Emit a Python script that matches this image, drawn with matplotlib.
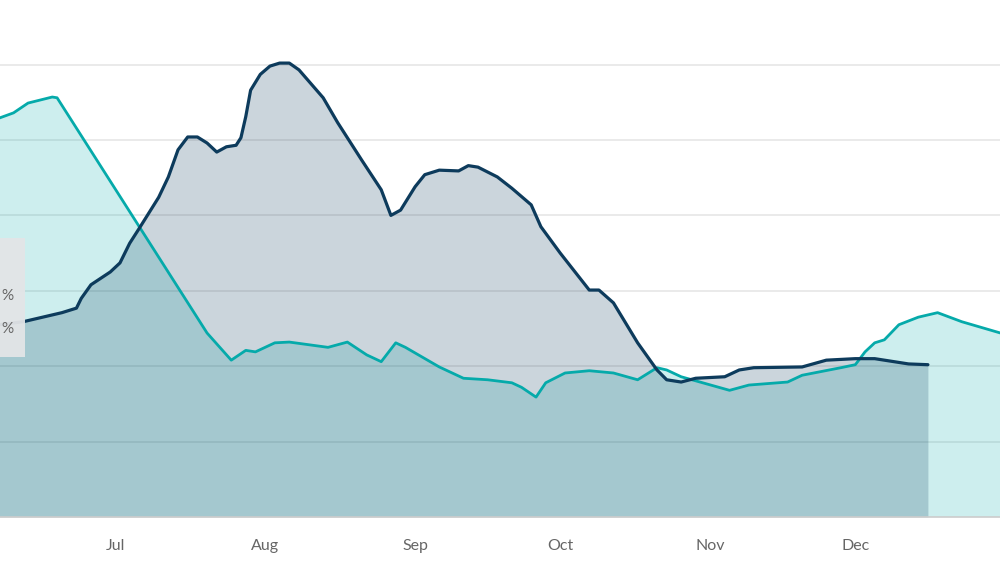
import matplotlib
matplotlib.use("Agg")
import matplotlib.pyplot as plt
import matplotlib.dates as mdates
from matplotlib.patches import Rectangle

# ---- data ----
teal_dates = ["2023-06-07", "2023-06-10", "2023-06-13", "2023-06-18", "2023-06-19",
              "2023-07-20", "2023-07-25", "2023-07-28", "2023-07-30", "2023-08-03",
              "2023-08-06", "2023-08-14", "2023-08-18", "2023-08-22", "2023-08-25",
              "2023-08-28", "2023-08-30", "2023-09-06", "2023-09-11", "2023-09-16",
              "2023-09-21", "2023-09-23", "2023-09-26", "2023-09-28", "2023-10-02",
              "2023-10-07", "2023-10-12", "2023-10-17", "2023-10-21", "2023-10-23",
              "2023-10-26", "2023-11-05", "2023-11-09", "2023-11-17",
              "2023-11-20", "2023-11-28", "2023-12-01", "2023-12-03", "2023-12-05",
              "2023-12-07", "2023-12-10", "2023-12-14", "2023-12-18", "2023-12-23",
              "2023-12-31"]
teal_values = [52.9, 53.6, 54.9, 55.7, 55.6,
               24.4, 20.8, 22.1, 21.9, 23.1,
               23.2, 22.5, 23.2, 21.5, 20.6,
               23.1, 22.5, 19.9, 18.4, 18.2,
               17.8, 17.2, 15.9, 17.8, 19.1,
               19.4, 19.1, 18.2, 19.8, 19.5,
               18.6, 16.8, 17.5, 17.9,
               18.8, 19.8, 20.2, 21.9, 23.1,
               23.5, 25.5, 26.5, 27.1, 25.9,
               24.4]

dark_dates = ["2023-06-07", "2023-06-12", "2023-06-20", "2023-06-23", "2023-06-24",
              "2023-06-26", "2023-06-30", "2023-07-02", "2023-07-04", "2023-07-06",
              "2023-07-10", "2023-07-12", "2023-07-14", "2023-07-16", "2023-07-18",
              "2023-07-20", "2023-07-22", "2023-07-24", "2023-07-26", "2023-07-27",
              "2023-07-28", "2023-07-29", "2023-07-31", "2023-08-02", "2023-08-04",
              "2023-08-06", "2023-08-08", "2023-08-13", "2023-08-16", "2023-08-21",
              "2023-08-25", "2023-08-27", "2023-08-29", "2023-09-01", "2023-09-03",
              "2023-09-06", "2023-09-10", "2023-09-12", "2023-09-14", "2023-09-18",
              "2023-09-21", "2023-09-25", "2023-09-27", "2023-10-01", "2023-10-07",
              "2023-10-09", "2023-10-12", "2023-10-17", "2023-10-21", "2023-10-23",
              "2023-10-26", "2023-10-29", "2023-11-04", "2023-11-07", "2023-11-10",
              "2023-11-20", "2023-11-25", "2023-12-01", "2023-12-05", "2023-12-12",
              "2023-12-16"]
dark_values = [25.5, 25.9, 27.1, 27.7, 29.0,
               30.8, 32.5, 33.7, 36.3, 38.3,
               42.4, 45.1, 48.7, 50.4, 50.4,
               49.6, 48.4, 49.1, 49.3, 50.3,
               53.1, 56.6, 58.7, 59.8, 60.2,
               60.2, 59.3, 55.6, 52.3, 47.3,
               43.4, 40.0, 40.7, 43.8, 45.4,
               46.0, 45.9, 46.6, 46.4, 45.1,
               43.6, 41.4, 38.5, 35.0, 30.1,
               30.1, 28.4, 23.1, 19.5, 18.2,
               17.9, 18.4, 18.6, 19.5, 19.8,
               19.9, 20.8, 21.0, 21.0, 20.3,
               20.2]

month_ticks = ["2023-07-01", "2023-08-01", "2023-09-01", "2023-10-01", "2023-11-01", "2023-12-01"]
month_labels = ["Jul", "Aug", "Sep", "Oct", "Nov", "Dec"]
grid_values = [10, 20, 30, 40, 50, 60]
tooltip_texts = ["%", "%"]

TEAL = "#05aaaa"
DARK = "#0d3b5c"

plt.rcParams['font.family'] = ['Lato', 'DejaVu Sans']

fig = plt.figure(figsize=(10, 5.66), dpi=100)
ax = fig.add_axes([0, 49 / 566, 1, 517 / 566])

td = mdates.datestr2num(teal_dates)
dd = mdates.datestr2num(dark_dates)

ax.fill_between(td, teal_values, 0, color=TEAL, alpha=0.2, linewidth=0, zorder=2)
ax.fill_between(dd, dark_values, 0, color=DARK, alpha=0.21, linewidth=0, zorder=3)
ax.plot(td, teal_values, color=TEAL, linewidth=2.0, zorder=4,
        solid_joinstyle='round', solid_capstyle='round')
ax.plot(dd, dark_values, color=DARK, linewidth=2.3, zorder=5,
        solid_joinstyle='round', solid_capstyle='round')

jul1 = mdates.datestr2num("2023-07-01")
ax.set_xlim(jul1 - 23.8, jul1 + 182.9)
ax.set_ylim(0, 517 / 7.54)

for g in grid_values:
    ax.axhline(g, color="#e6e6e6", linewidth=1.2, zorder=1)

ax.set_xticks(mdates.datestr2num(month_ticks))
ax.set_xticklabels(month_labels)
ax.tick_params(axis='x', length=0, pad=16, labelsize=11.5, colors="#666666")
ax.set_yticks([])
for s in ["top", "left", "right"]:
    ax.spines[s].set_visible(False)
ax.spines["bottom"].set_color("#cccccc")
ax.spines["bottom"].set_linewidth(1.2)
ax.spines["bottom"].set_zorder(6)

# partially visible tooltip at the left edge
rect = Rectangle((0, 1 - 357 / 566), 25 / 1000, 119 / 566, transform=fig.transFigure,
                 facecolor="#e3e5e7", edgecolor="none", alpha=0.95, zorder=10)
fig.patches.append(rect)
fig.text(1 / 1000, 1 - 296 / 566, tooltip_texts[0], ha="left", va="center",
         fontsize=11, color="#666666", zorder=11)
fig.text(1 / 1000, 1 - 329 / 566, tooltip_texts[1], ha="left", va="center",
         fontsize=11, color="#666666", zorder=11)

fig.savefig("out.png", dpi=100)
